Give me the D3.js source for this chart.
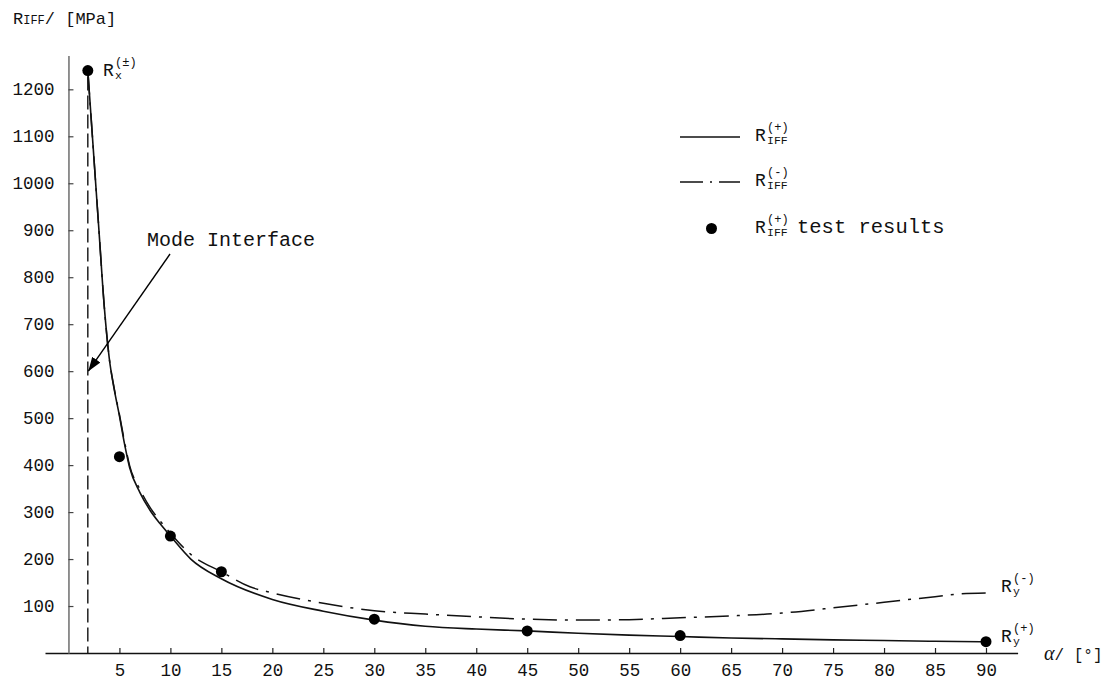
<!DOCTYPE html>
<html>
  <head>
    <meta charset="utf-8">
    <script src="https://d3js.org/d3.v7.min.js"></script>
    <style>
      body { margin: 0; background: #fff; }
      text { font-family: 'Liberation Mono', 'DejaVu Sans Mono', monospace; fill: #111; }
    </style>
  </head>
  <body>
    <svg></svg>
    <script type="text/javascript">
      // R_IFF(+) curve (solid)
      const alphaPlus = [1.9, 2.5, 3, 3.5, 4, 4.5, 5, 5.5, 6, 7, 8, 9, 10, 12, 15, 20, 25, 30,
                         35, 40, 45, 50, 55, 60, 65, 70, 75, 80, 85, 90]
      const rPlus = [1240, 1053, 897, 741, 628, 560, 505, 445, 395, 342, 304, 275, 249, 200, 158, 114, 89, 70,
                     57, 51, 47, 42, 38, 35, 32, 30, 28, 26.5, 25, 24]

      // R_IFF(-) curve (dash-dot)
      const alphaMinus = [1.9, 2.5, 3, 3.5, 4, 4.5, 5, 5.5, 6, 7, 8, 9, 10, 12, 15, 17.8, 20, 25, 30,
                          35, 40, 45, 50, 55, 60, 65, 70, 75, 80, 85, 87.5, 90]
      const rMinus = [1240, 1053, 897, 741, 628, 562, 508, 450, 399, 349, 310, 281, 255, 210, 173, 141, 128, 106, 90,
                      83, 77, 72, 70, 71, 75, 79, 85, 96, 108, 120, 126, 128]

      // test results
      const testAlpha = [1.9, 5, 10, 15, 30, 45, 60, 90]
      const testR = [1240, 418, 249, 173, 72, 47, 37, 24]

      const xTickValues = [5, 10, 15, 20, 25, 30, 35, 40, 45, 50, 55, 60, 65, 70, 75, 80, 85, 90]
      const yTickValues = [100, 200, 300, 400, 500, 600, 700, 800, 900, 1000, 1100, 1200]

      const alphaModeInterface = 1.9
      const rModeInterface = 600

      const width = 1106
      const height = 682

      const svg =
        d3.select('svg')
          .attr('width', width)
          .attr('height', height)

      const x =
        d3.scaleLinear()
          .domain([-2.3, 93.1])
          .range([45, 1017.6])

      const y =
        d3.scaleLinear()
          .domain([0, 1272])
          .range([653, 55.5])

      const line =
        d3.line()
          .x(d => x(d[0]))
          .y(d => y(d[1]))
          .curve(d3.curveMonotoneX)

      // axes
      const xAxis =
        svg.append('g')
          .attr('transform', `translate(0,${y(0)})`)
          .call(
            d3.axisBottom(x)
              .tickValues(xTickValues)
              .tickFormat(d3.format('d'))
              .tickSizeInner(-5)
              .tickSizeOuter(0)
              .tickPadding(11)
          )
      xAxis.select('.domain').attr('stroke', '#111').attr('stroke-width', 1.4)
      xAxis.selectAll('.tick line').attr('stroke', '#222').attr('stroke-width', 1.2)
      xAxis.selectAll('.tick text')
        .attr('font-size', 17.5)
        .attr('font-family', "'Liberation Mono', monospace")
        .attr('fill', '#111')

      const yAxis =
        svg.append('g')
          .attr('transform', `translate(${x(0)},0)`)
          .call(
            d3.axisLeft(y)
              .tickValues(yTickValues)
              .tickFormat(d3.format('d'))
              .tickSizeInner(-5)
              .tickSizeOuter(0)
              .tickPadding(14)
          )
      yAxis.select('.domain').attr('stroke', '#777').attr('stroke-width', 1.6)
      yAxis.selectAll('.tick line').attr('stroke', '#444').attr('stroke-width', 1.2)
      yAxis.selectAll('.tick text')
        .attr('font-size', 17.5)
        .attr('font-family', "'Liberation Mono', monospace")
        .attr('fill', '#111')

      // mode interface dashed line
      svg.append('line')
        .attr('x1', x(alphaModeInterface))
        .attr('x2', x(alphaModeInterface))
        .attr('y1', y(testR[0]) + 6)
        .attr('y2', y(0))
        .attr('stroke', '#111')
        .attr('stroke-width', 1.4)
        .attr('stroke-dasharray', '14,5')

      // curves
      svg.append('path')
        .datum(alphaMinus.map((a, i) => [a, rMinus[i]]))
        .attr('d', line)
        .attr('fill', 'none')
        .attr('stroke', '#111')
        .attr('stroke-width', 1.5)
        .attr('stroke-dasharray', '24,8,3,8')

      svg.append('path')
        .datum(alphaPlus.map((a, i) => [a, rPlus[i]]))
        .attr('d', line)
        .attr('fill', 'none')
        .attr('stroke', '#111')
        .attr('stroke-width', 1.6)

      svg.selectAll('.test_point')
        .data(testAlpha.map((a, i) => [a, testR[i]]))
        .enter()
        .append('circle')
          .attr('class', 'test_point')
          .attr('cx', d => x(d[0]))
          .attr('cy', d => y(d[1]))
          .attr('r', 5.5)
          .attr('fill', '#000')

      // arrow to mode interface
      svg.append('defs')
        .append('marker')
          .attr('id', 'arrow')
          .attr('viewBox', '0 0 14 10')
          .attr('refX', 14)
          .attr('refY', 5)
          .attr('markerWidth', 14)
          .attr('markerHeight', 10)
          .attr('markerUnits', 'userSpaceOnUse')
          .attr('orient', 'auto')
        .append('path')
          .attr('d', 'M0,0 L14,5 L0,10 Z')
          .attr('fill', '#000')

      svg.append('line')
        .attr('x1', 170)
        .attr('y1', 254)
        .attr('x2', x(alphaModeInterface) + 0.5)
        .attr('y2', y(rModeInterface))
        .attr('stroke', '#000')
        .attr('stroke-width', 1.4)
        .attr('marker-end', 'url(#arrow)')

      svg.append('text')
        .attr('x', 147)
        .attr('y', 246)
        .attr('font-size', 20)
        .text('Mode Interface')

      // labels with super- and subscripts
      function symbol(xPos, yPos, sup, sub) {
        svg.append('text')
          .attr('x', xPos)
          .attr('y', yPos)
          .attr('font-size', 18)
          .text('R')
        svg.append('text')
          .attr('x', xPos + 12)
          .attr('y', yPos - 10)
          .attr('font-size', 12)
          .text(sup)
        svg.append('text')
          .attr('x', xPos + 12)
          .attr('y', yPos + 3)
          .attr('font-size', 11.5)
          .text(sub)
      }

      symbol(103, 76, '(±)', 'x')
      symbol(1001, 592, '(-)', 'y')
      symbol(1001, 642, '(+)', 'y')

      // legend
      svg.append('line')
        .attr('x1', 680).attr('x2', 740)
        .attr('y1', 137).attr('y2', 137)
        .attr('stroke', '#111')
        .attr('stroke-width', 1.5)
      symbol(755, 141, '(+)', 'IFF')

      svg.append('line')
        .attr('x1', 680).attr('x2', 740)
        .attr('y1', 182).attr('y2', 182)
        .attr('stroke', '#111')
        .attr('stroke-width', 1.5)
        .attr('stroke-dasharray', '23,7,2,7')
      symbol(755, 186, '(-)', 'IFF')

      svg.append('circle')
        .attr('cx', 711.5)
        .attr('cy', 228.5)
        .attr('r', 5.5)
        .attr('fill', '#000')
      symbol(755, 233, '(+)', 'IFF')
      svg.append('text')
        .attr('x', 797)
        .attr('y', 233)
        .attr('font-size', 20.5)
        .text('test results')

      // axis titles
      const yTitle =
        svg.append('text')
          .attr('x', 13)
          .attr('y', 24)
          .attr('font-size', 17)
      yTitle.append('tspan').text('R')
      yTitle.append('tspan').attr('font-size', 12).text('IFF')
      yTitle.append('tspan').text('/ [MPa]')

      const xTitle =
        svg.append('text')
          .attr('x', 1044)
          .attr('y', 660)
          .attr('font-size', 16)
      xTitle.append('tspan')
        .attr('font-family', "'Liberation Serif', serif")
        .attr('font-style', 'italic')
        .attr('font-size', 20)
        .text('α')
      xTitle.append('tspan').text('/ [°]')
    </script>
  </body>
</html>
